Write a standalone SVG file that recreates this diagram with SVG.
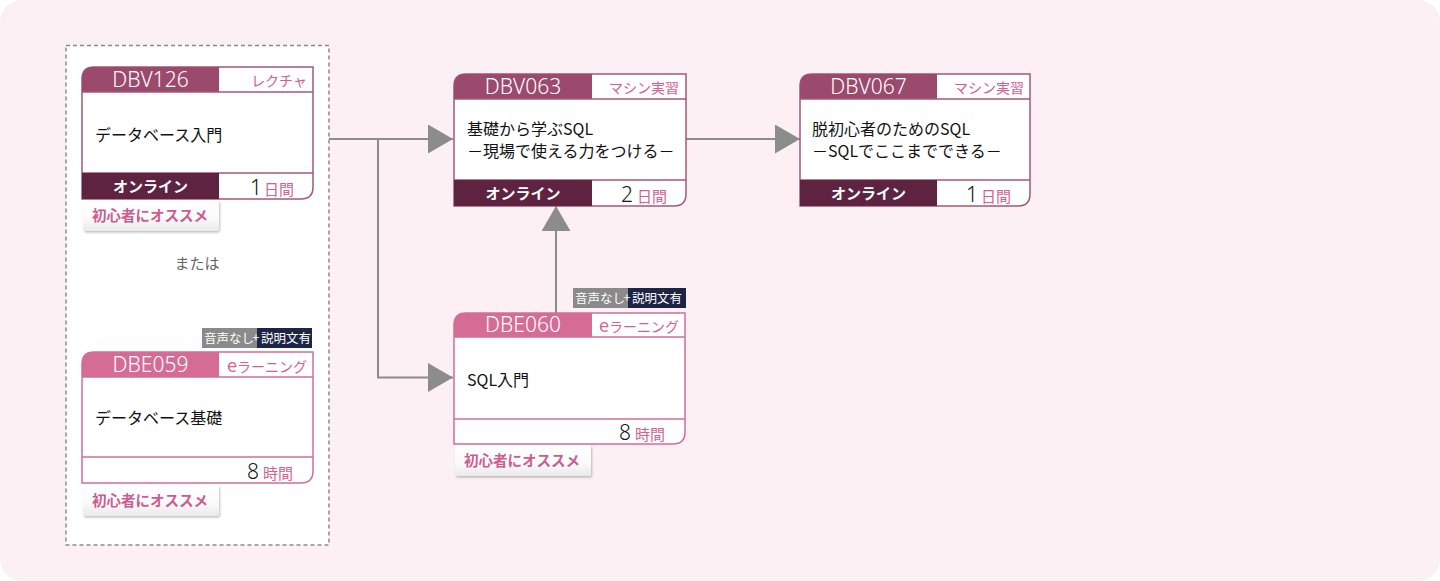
<svg xmlns="http://www.w3.org/2000/svg" width="1440" height="581" viewBox="0 0 1440 581">
<style>
.code{font-family:"Noto Sans","Noto Sans CJK JP",sans-serif;font-size:21px;font-weight:300;fill:#fff;text-anchor:middle}
.type{font-family:"Noto Sans CJK JP",sans-serif;font-size:14px;text-anchor:end}
.tv{fill:#d35e96}
.te{fill:#d4628f}
.title{font-family:"Noto Sans CJK JP",sans-serif;font-size:16px;fill:#111}
.mode{font-family:"Noto Sans CJK JP",sans-serif;font-size:15px;font-weight:bold;fill:#fff;text-anchor:middle}
.num{font-family:"Noto Sans","Noto Sans CJK JP",sans-serif;font-size:21px;font-weight:300;fill:#111}
.unit{font-family:"Noto Sans CJK JP",sans-serif;font-size:15px;fill:#d4628f}
.tag{font-family:"Noto Sans CJK JP",sans-serif;font-size:14.5px;font-weight:bold;fill:#cc5c90}
.badge{font-family:"Noto Sans CJK JP",sans-serif;font-size:12.5px;fill:#fff}
.conn{fill:none;stroke:#8c8c8c;stroke-width:2}
.or{font-family:"Noto Sans CJK JP",sans-serif;font-size:15px;fill:#666}
</style>
<defs>
<marker id="arr" markerUnits="userSpaceOnUse" markerWidth="26" markerHeight="30" refX="25" refY="14.5" orient="auto">
<path d="M0,0 L25,14.5 L0,29 Z" fill="#8c8c8c"/>
</marker>
<linearGradient id="tagg" x1="0" y1="0" x2="0" y2="1">
<stop offset="0" stop-color="#ffffff"/>
<stop offset="0.6" stop-color="#fafafa"/>
<stop offset="1" stop-color="#e9e9e9"/>
</linearGradient>
<filter id="sh" x="-10%" y="-20%" width="130%" height="160%">
<feDropShadow dx="1" dy="1.5" stdDeviation="1" flood-color="#000" flood-opacity="0.25"/>
</filter>
</defs>

<rect x="0" y="0" width="1440" height="581" rx="22" fill="#fcf0f4"/>

<rect id="group-box" x="66" y="45.5" width="263" height="499.5" fill="#fff" stroke="#8a8a8a" stroke-width="1.5" stroke-dasharray="4 3"/>
<text class="or" x="197" y="269" text-anchor="middle">または</text>

<g id="connectors">
<path class="conn" d="M329,139 H453" marker-end="url(#arr)"/>
<path class="conn" d="M378,139 V377.5 H453" marker-end="url(#arr)"/>
<path class="conn" d="M556,313 V206" marker-end="url(#arr)"/>
<path class="conn" d="M686,139 H800" marker-end="url(#arr)"/>
</g>

<!-- DBV126 -->
<g id="DBV126">
<path d="M82,79 Q82,67 94,67 H313 V187 Q313,199 301,199 H82 Z" fill="#fff" stroke="#a35878" stroke-width="1.5"/>
<path d="M82,79 Q82,67 94,67 H219 V92 H82 Z" fill="#9b4a6d"/>
<line x1="82" y1="92" x2="313" y2="92" stroke="#a35878" stroke-width="1.5"/>
<line x1="82" y1="173" x2="313" y2="173" stroke="#a35878" stroke-width="1.5"/>
<rect x="82" y="173" width="137" height="26" fill="#5e2341"/>
<text class="code" x="150.5" y="87">DBV126</text>
<text class="type tv" x="307" y="86">レクチャ</text>
<text class="title" x="95" y="141">データベース入門</text>
<text class="mode" x="150.5" y="192">オンライン</text>
<text class="num" x="250" y="195">1</text>
<text class="unit" x="264" y="195">日間</text>
<g filter="url(#sh)"><rect x="83" y="200" width="136" height="31" rx="2" fill="url(#tagg)"/></g>
<text class="tag" x="92" y="221">初心者にオススメ</text>
</g>

<!-- DBE059 -->
<g id="DBE059">
<rect x="202" y="328" width="55" height="20" fill="#8a8a8a"/>
<rect x="257" y="328" width="55" height="20" fill="#1d2547"/>
<text class="badge" x="204" y="343">音声なし</text>
<text class="badge" x="252.5" y="342" font-size="9">+</text>
<text class="badge" x="261" y="343">説明文有</text>
<path d="M82,364 Q82,352 94,352 H313 V471 Q313,483 301,483 H82 Z" fill="#fff" stroke="#d46c96" stroke-width="1.5"/>
<path d="M82,364 Q82,352 94,352 H219 V377 H82 Z" fill="#d46c96"/>
<line x1="82" y1="377" x2="313" y2="377" stroke="#d46c96" stroke-width="1.5"/>
<line x1="82" y1="457" x2="313" y2="457" stroke="#d46c96" stroke-width="1.5"/>
<text class="code" x="150.5" y="372">DBE059</text>
<text class="type te" x="307" y="372"><tspan font-size="18">e</tspan>ラーニング</text>
<text class="title" x="95" y="424">データベース基礎</text>
<text class="num" x="247" y="479">8</text>
<text class="unit" x="263" y="479">時間</text>
<g filter="url(#sh)"><rect x="83" y="485" width="136" height="31" rx="2" fill="url(#tagg)"/></g>
<text class="tag" x="92" y="506">初心者にオススメ</text>
</g>

<!-- DBV063 -->
<g id="DBV063">
<path d="M454,86 Q454,74 466,74 H686 V194 Q686,206 674,206 H454 Z" fill="#fff" stroke="#a35878" stroke-width="1.5"/>
<path d="M454,86 Q454,74 466,74 H592 V99 H454 Z" fill="#9b4a6d"/>
<line x1="454" y1="99" x2="686" y2="99" stroke="#a35878" stroke-width="1.5"/>
<line x1="454" y1="180" x2="686" y2="180" stroke="#a35878" stroke-width="1.5"/>
<rect x="454" y="180" width="138" height="26" fill="#5e2341"/>
<text class="code" x="523" y="94">DBV063</text>
<text class="type tv" x="679" y="93">マシン実習</text>
<text class="title" x="467" y="135">基礎から学ぶSQL</text>
<text class="title" x="467" y="157">－現場で使える力をつける－</text>
<text class="mode" x="523" y="199">オンライン</text>
<text class="num" x="621" y="202">2</text>
<text class="unit" x="637" y="202">日間</text>
</g>

<!-- DBE060 -->
<g id="DBE060">
<rect x="573" y="288" width="55" height="20" fill="#8a8a8a"/>
<rect x="628" y="288" width="58" height="20" fill="#1d2547"/>
<text class="badge" x="575" y="303">音声なし</text>
<text class="badge" x="623.5" y="302" font-size="9">+</text>
<text class="badge" x="632" y="303">説明文有</text>
<path d="M454,325 Q454,313 466,313 H685 V432 Q685,444 673,444 H454 Z" fill="#fff" stroke="#d46c96" stroke-width="1.5"/>
<path d="M454,325 Q454,313 466,313 H592 V337 H454 Z" fill="#d46c96"/>
<line x1="454" y1="337" x2="685" y2="337" stroke="#d46c96" stroke-width="1.5"/>
<line x1="454" y1="419" x2="685" y2="419" stroke="#d46c96" stroke-width="1.5"/>
<text class="code" x="523" y="332">DBE060</text>
<text class="type te" x="679" y="332"><tspan font-size="18">e</tspan>ラーニング</text>
<text class="title" x="467" y="386">SQL入門</text>
<text class="num" x="619" y="440">8</text>
<text class="unit" x="635" y="440">時間</text>
<g filter="url(#sh)"><rect x="455" y="445" width="136" height="31" rx="2" fill="url(#tagg)"/></g>
<text class="tag" x="464" y="466">初心者にオススメ</text>
</g>

<!-- DBV067 -->
<g id="DBV067">
<path d="M800,86 Q800,74 812,74 H1030 V194 Q1030,206 1018,206 H800 Z" fill="#fff" stroke="#a35878" stroke-width="1.5"/>
<path d="M800,86 Q800,74 812,74 H937 V99 H800 Z" fill="#9b4a6d"/>
<line x1="800" y1="99" x2="1030" y2="99" stroke="#a35878" stroke-width="1.5"/>
<line x1="800" y1="180" x2="1030" y2="180" stroke="#a35878" stroke-width="1.5"/>
<rect x="800" y="180" width="137" height="26" fill="#5e2341"/>
<text class="code" x="868.5" y="94">DBV067</text>
<text class="type tv" x="1024" y="93">マシン実習</text>
<text class="title" x="812" y="135">脱初心者のためのSQL</text>
<text class="title" x="812" y="157">－SQLでここまでできる－</text>
<text class="mode" x="868.5" y="199">オンライン</text>
<text class="num" x="966" y="202">1</text>
<text class="unit" x="981" y="202">日間</text>
</g>
</svg>
